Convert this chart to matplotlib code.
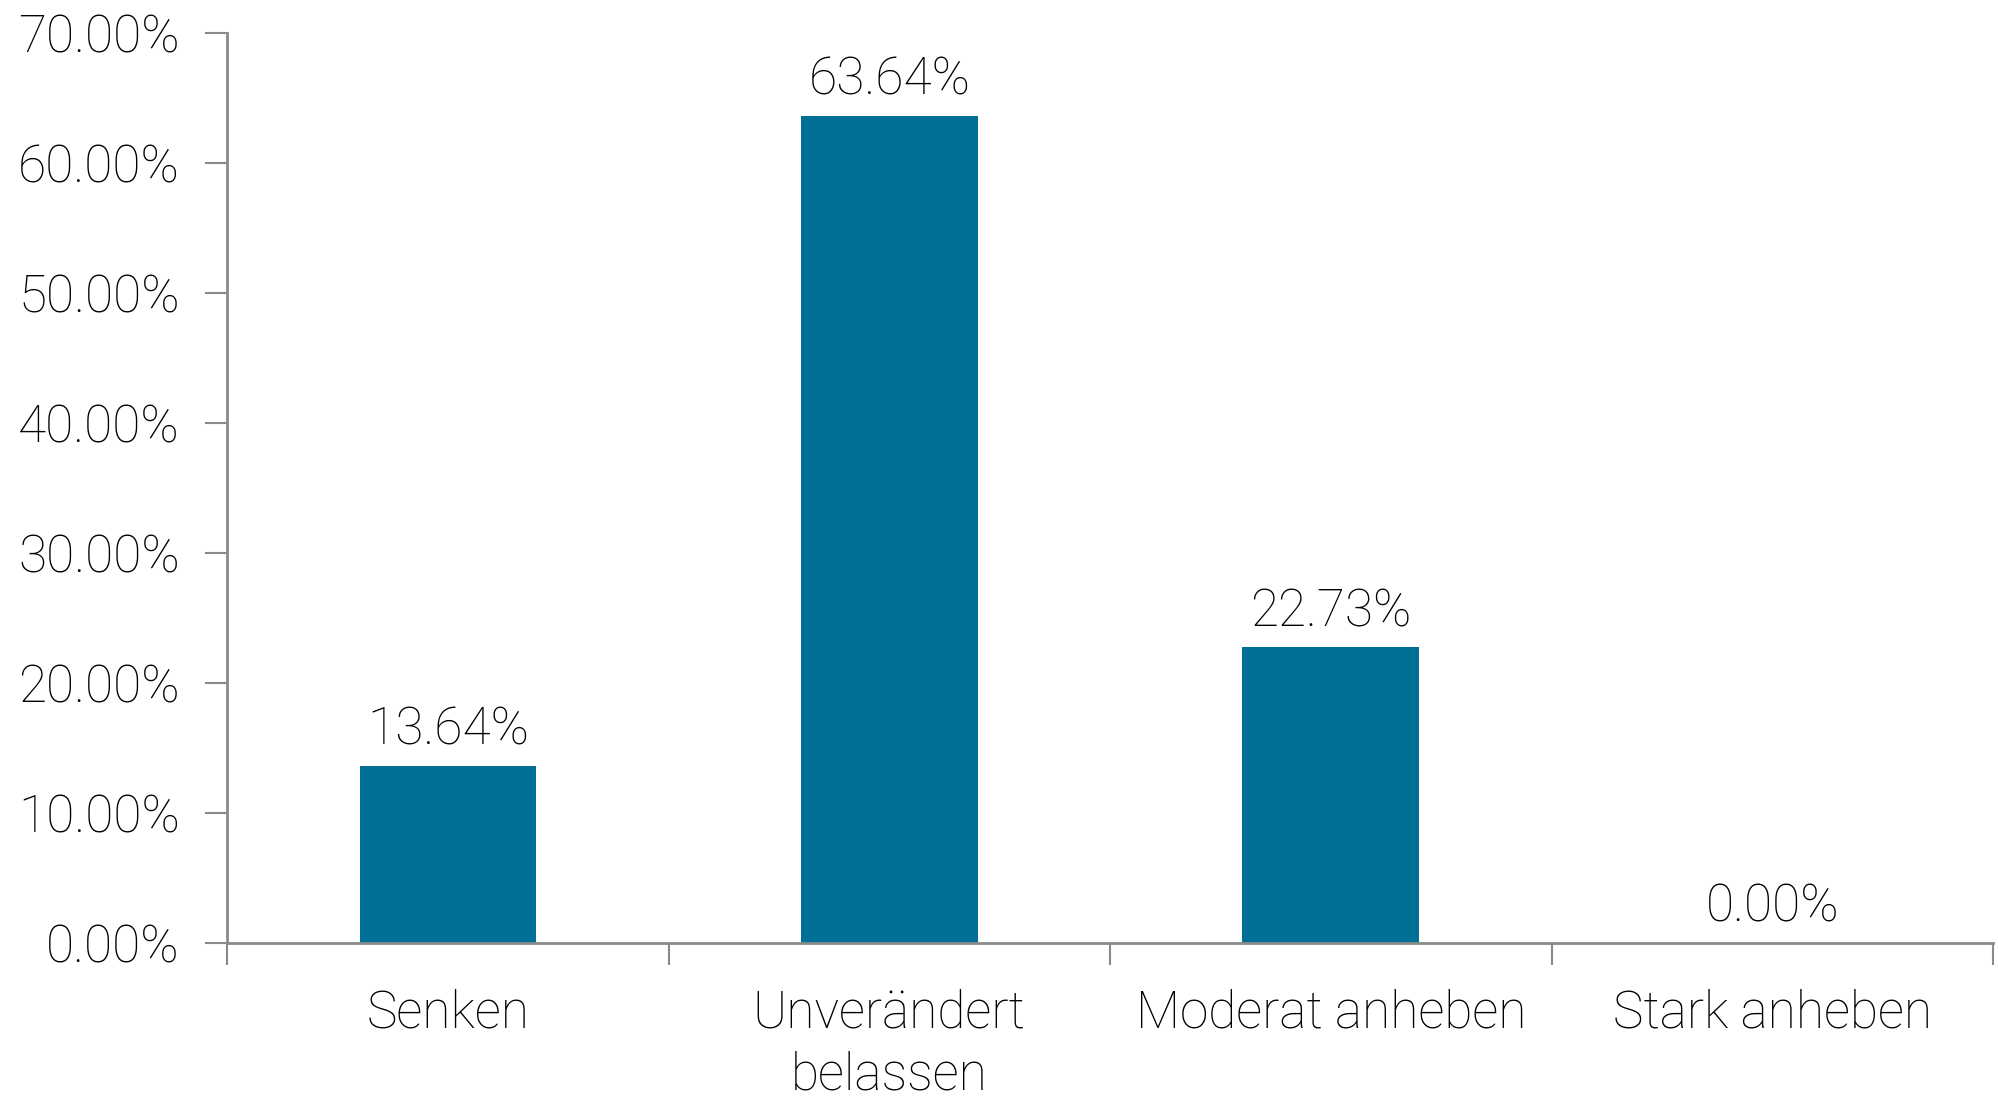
import matplotlib
matplotlib.use("Agg")
from matplotlib import pyplot as plt
from matplotlib.ticker import FuncFormatter

# Antworten und Anteile
categories = ["Senken", "Unverändert\nbelassen", "Moderat anheben", "Stark anheben"]
shares = [13.64, 63.64, 22.73, 0.00]

plt.rcParams['font.family'] = ['Roboto', 'DejaVu Sans']
plt.rcParams['font.weight'] = 'light'

fig = plt.figure(figsize=(19.99, 10.99), dpi=100)
ax = fig.add_axes([0.1136, 0.142, 0.8834, 0.828])

x = range(len(categories))
bars = ax.bar(x, shares, width=0.4, color="#006f95")

# Wertebeschriftung über den Balken
for b, v in zip(bars, shares):
    ax.text(b.get_x() + b.get_width() / 2, v + 0.8, "%.2f%%" % v,
            ha="center", va="bottom", fontsize=37, color="black")

ax.set_xlim(-0.5, len(categories) - 0.5)
ax.set_ylim(0, 70)
ax.set_yticks(range(0, 71, 10))
ax.yaxis.set_major_formatter(FuncFormatter(lambda v, p: "%.2f%%" % v))

# Kategorien zwischen den Ticks
ax.set_xticks([i - 0.5 for i in range(len(categories) + 1)])
ax.set_xticklabels([])
ax.set_xticks(list(x), minor=True)
ax.set_xticklabels(categories, minor=True, fontsize=37, linespacing=1.3)
ax.tick_params(axis="x", which="minor", length=0, pad=33)
ax.tick_params(axis="x", which="major", length=16, width=1.5, color="#8a8a8a", direction="out")
ax.tick_params(axis="y", length=16, width=1.5, color="#8a8a8a", pad=18, labelsize=37)

for s in ["top", "right"]:
    ax.spines[s].set_visible(False)
for s in ["left", "bottom"]:
    ax.spines[s].set_color("#8a8a8a")
    ax.spines[s].set_linewidth(2)

fig.savefig("out.png", dpi=100)
